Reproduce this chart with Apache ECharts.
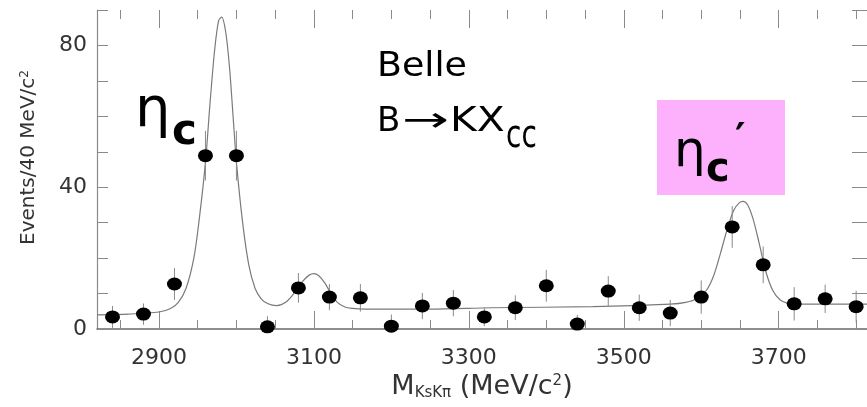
<!DOCTYPE html>
<html>
<head>
<meta charset="utf-8">
<script src="https://cdn.jsdelivr.net/npm/echarts@6/dist/echarts.min.js"></script>
<style>
html,body{margin:0;padding:0;background:#fff;}
#chart{width:867px;height:407px;}
</style>
</head>
<body>
<div id="chart"></div>
<script>
// ---- data ----
const massBins = [2840, 2880, 2920, 2960, 3000, 3040, 3080, 3120, 3160, 3200, 3240, 3280, 3320,
                  3360, 3400, 3440, 3480, 3520, 3560, 3600, 3640, 3680, 3720, 3760, 3800];
const events   = [3.4, 4.2, 12.7, 48.9, 48.9, 0.6, 11.6, 9.0, 8.8, 0.8, 6.5, 7.3, 3.4,
                  6.0, 12.2, 1.4, 10.7, 6.0, 4.5, 9.0, 28.8, 18.1, 7.1, 8.5, 6.3];
const errors   = [3.1, 3.0, 4.5, 7.0, 7.0, 3.0, 4.2, 3.7, 3.9, 3.3, 3.7, 3.7, 2.6,
                  3.5, 4.5, 2.6, 4.2, 3.7, 3.7, 4.7, 5.9, 5.2, 4.7, 4.0, 4.5];
const fitMass  = [2820, 2860, 2900, 2915, 2925, 2935, 2945, 2952, 2960, 2966, 2972, 2977, 2981, 2986,
                  2991, 2996, 3000, 3008, 3016, 3024, 3032, 3040, 3052, 3064, 3076, 3086, 3094, 3100,
                  3106, 3114, 3122, 3130, 3140, 3150, 3165, 3250, 3330, 3460, 3560, 3580, 3595, 3607,
                  3616, 3625, 3634, 3642, 3649, 3654, 3660, 3667, 3675, 3683, 3692, 3702, 3714, 3728, 3814];
const fitValue = [4.0, 4.2, 4.8, 5.8, 7.5, 11.5, 20, 31, 47, 64, 79, 87, 88, 84,
                  74, 59, 47, 30, 18, 11.5, 8.5, 7.2, 6.6, 7.6, 10.5, 13.6, 15.2, 15.6,
                  15.1, 13.0, 10.0, 7.6, 6.2, 5.8, 5.6, 5.6, 6.0, 6.3, 7.0, 7.5, 8.6, 11,
                  15, 21.5, 28.5, 33.5, 35.6, 36, 35, 31, 24, 16.5, 11, 8.2, 7.2, 7.0, 7.0];
const xMajorTicks = [2900, 3100, 3300, 3500, 3700];
const xMinorTicks = [2850, 2950, 3000, 3050, 3150, 3200, 3250, 3350, 3400, 3450, 3550, 3600, 3650, 3750, 3800];
const yTickLabels = [0, 40, 80];

const FONT = 'DejaVu Sans';
const X_MIN = 2820, X_MAX = 3814;

const chart = echarts.init(document.getElementById('chart'), null, {renderer: 'canvas'});

function xAx(pos, ticks, len, labels, extra) {
  return Object.assign({
    type: 'value', position: pos, min: X_MIN, max: X_MAX,
    splitLine: {show: false},
    axisLine: {show: false},
    axisTick: {show: true, inside: true, length: len, customValues: ticks,
               lineStyle: {color: '#8a8a8a', width: 1}},
    axisLabel: labels ? {show: true, customValues: labels, fontFamily: FONT, fontSize: 22,
               color: '#333', margin: 18, formatter: v => String(v)} : {show: false}
  }, extra || {});
}

const option = {
  animation: false,
  backgroundColor: '#fff',
  grid: {left: 97, right: 0, top: 10, bottom: 78, containLabel: false},
  xAxis: [
    xAx('bottom', xMajorTicks, 18, xMajorTicks, {
      axisLine: {show: true, lineStyle: {color: '#6a6a6a', width: 1.5}},
      name: 'M{sub|KsKπ} (MeV/c{sup|2})',
      nameLocation: 'middle', nameGap: 34,
      nameTextStyle: {fontFamily: FONT, fontSize: 27, color: '#333',
        rich: {
          sub: {fontFamily: FONT, fontSize: 15, color: '#333', verticalAlign: 'bottom'},
          sup: {fontFamily: FONT, fontSize: 15, color: '#333', verticalAlign: 'top'}
        }}
    }),
    xAx('bottom', xMinorTicks, 9, null),
    xAx('top', xMajorTicks, 18, null),
    xAx('top', xMinorTicks, 9, null)
  ],
  yAxis: [
    {
      type: 'value', position: 'left', min: 0, max: 90, interval: 10,
      splitLine: {show: false},
      axisLine: {show: true, lineStyle: {color: '#8a8a8a', width: 1.2}},
      axisTick: {show: true, inside: true, length: 11, lineStyle: {color: '#8a8a8a'}},
      axisLabel: {customValues: yTickLabels, fontFamily: FONT, fontSize: 22, color: '#333', margin: 10,
                  formatter: v => String(v)},
      name: 'Events/40 MeV/c{sup|2}',
      nameLocation: 'middle', nameGap: 58, nameRotate: 90,
      nameTextStyle: {fontFamily: FONT, fontSize: 20, color: '#333', padding: [0, 0, 0, 24],
        rich: {sup: {fontFamily: FONT, fontSize: 12, color: '#333', verticalAlign: 'top'}}}
    },
    {
      type: 'value', position: 'right', min: 0, max: 90, interval: 10,
      splitLine: {show: false},
      axisLine: {show: false},
      axisTick: {show: true, inside: true, length: 15, lineStyle: {color: '#8a8a8a'}},
      axisLabel: {show: false}
    }
  ],
  series: [
    {
      type: 'line', name: 'fit', xAxisIndex: 0, yAxisIndex: 0,
      data: fitMass.map((m, i) => [m, fitValue[i]]),
      smooth: 0.3, showSymbol: false, symbol: 'none',
      lineStyle: {color: '#7a7a7a', width: 1.2}, z: 2
    },
    {
      type: 'custom', name: 'errors', xAxisIndex: 0, yAxisIndex: 0,
      data: massBins.map((m, i) => [m, events[i], errors[i]]),
      renderItem: function (params, api) {
        const x = api.value(0), y = api.value(1), e = api.value(2);
        const top = api.coord([x, y + e]);
        const bot = api.coord([x, Math.max(0, y - e)]);
        return {type: 'line', shape: {x1: top[0], y1: top[1], x2: bot[0], y2: bot[1]},
                style: {stroke: '#8a8a8a', lineWidth: 1}};
      },
      z: 3
    },
    {
      type: 'scatter', name: 'data', xAxisIndex: 0, yAxisIndex: 0,
      data: massBins.map((m, i) => [m, events[i]]),
      symbol: 'circle', symbolSize: [15, 13],
      itemStyle: {color: '#000', opacity: 1}, clip: false, z: 4
    }
  ],
  graphic: [
    {type: 'rect', shape: {x: 657, y: 100, width: 128, height: 95}, style: {fill: '#FDB1FD'}, z: 1},
    {type: 'text', x: 135, y: 111, style: {text: 'η', fontFamily: FONT, fontSize: 56, fill: '#000', textVerticalAlign: 'middle'}},
    {type: 'text', x: 172, y: 133, style: {text: 'c', fontFamily: FONT, fontWeight: 'bold', fontSize: 42, fill: '#000', textVerticalAlign: 'middle'}},
    {type: 'text', x: 377, y: 67, scaleX: 1.07, style: {text: 'Belle', fontFamily: FONT, fontSize: 34, fill: '#000', textVerticalAlign: 'middle'}},
    {type: 'text', x: 377, y: 122, style: {text: 'B', fontFamily: FONT, fontSize: 34, fill: '#000', textVerticalAlign: 'middle'}},
    {type: 'text', x: 402, y: 122, scaleX: 1.65, style: {text: '→', fontFamily: FONT, fontSize: 34, fill: '#000', textVerticalAlign: 'middle'}},
    {type: 'text', x: 450, y: 122, scaleX: 1.2, style: {text: 'KX', fontFamily: FONT, fontSize: 34, fill: '#000', textVerticalAlign: 'middle'}},
    {type: 'text', x: 506, y: 137, scaleY: 1.4, style: {text: 'cc', fontFamily: FONT, fontSize: 28, fill: '#000', textVerticalAlign: 'middle'}},
    {type: 'text', x: 674, y: 153, z: 2, style: {text: 'η', fontFamily: FONT, fontSize: 50, fill: '#000', textVerticalAlign: 'middle'}},
    {type: 'text', x: 706, y: 171, z: 2, style: {text: 'c', fontFamily: FONT, fontWeight: 'bold', fontSize: 40, fill: '#000', textVerticalAlign: 'middle'}},
    {type: 'text', x: 735, y: 142, z: 2, style: {text: '′', fontFamily: FONT, fontWeight: 'bold', fontSize: 40, fill: '#000', textVerticalAlign: 'middle'}}
  ]
};
chart.setOption(option);
</script>
</body>
</html>
